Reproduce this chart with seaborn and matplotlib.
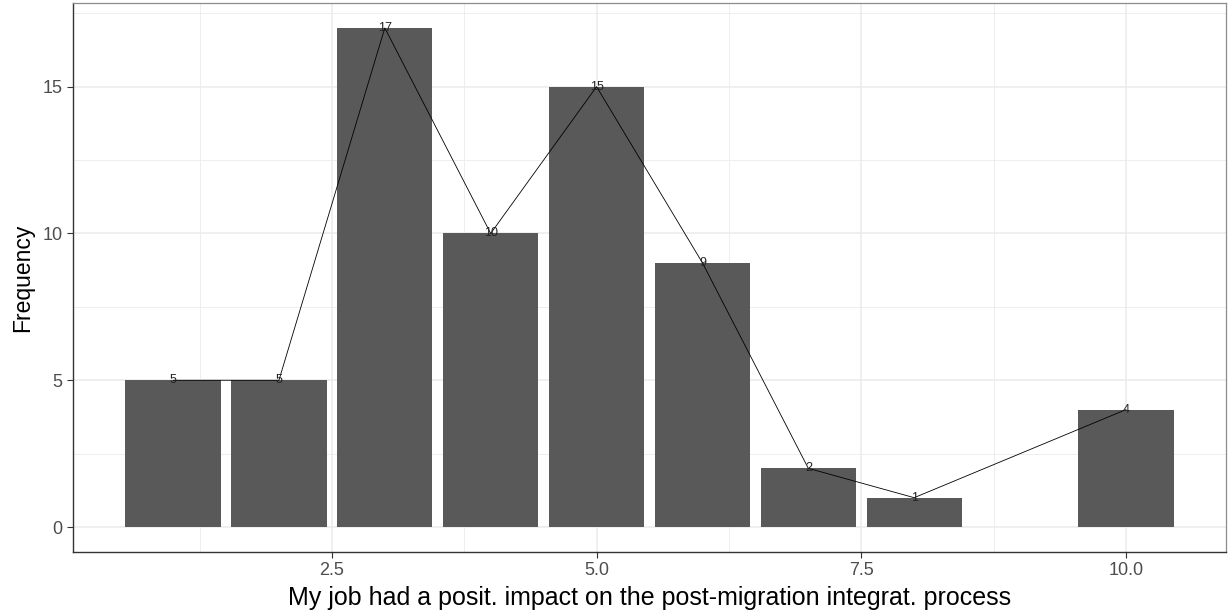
import numpy as np
import pandas as pd
import seaborn as sns
import matplotlib.pyplot as plt
from matplotlib.ticker import MultipleLocator

# response scale values and how often each was chosen
scores = [1, 2, 3, 4, 5, 6, 7, 8, 10]
counts = [5, 5, 17, 10, 15, 9, 2, 1, 4]
x_ticks = [2.5, 5.0, 7.5, 10.0]
y_ticks = [0, 5, 10, 15]

df = pd.DataFrame({'score': scores, 'freq': counts})

sns.set_theme(style="white")
plt.rcParams['font.family'] = ['Liberation Sans', 'DejaVu Sans']

fig = plt.figure(figsize=(12.28, 6.14), dpi=100)
ax = fig.add_axes([73 / 1228, 62 / 614, 1153 / 1228, 549 / 614])

sns.barplot(data=df, x='score', y='freq', native_scale=True, width=0.9,
            color='#595959', saturation=1, edgecolor='none', ax=ax, zorder=2)
sns.lineplot(data=df, x='score', y='freq', color='black', linewidth=0.6, ax=ax, zorder=3)
for s, c in zip(scores, counts):
    ax.text(s, c, str(c), ha='center', va='center', fontsize=9, color='#222222', zorder=4)

ax.set_xlim(0.055, 10.945)
ax.set_ylim(-0.85, 17.85)
ax.set_xticks(x_ticks)
ax.set_xticklabels([f'{v:.1f}' for v in x_ticks])
ax.set_yticks(y_ticks)
ax.xaxis.set_minor_locator(MultipleLocator(1.25))
ax.yaxis.set_minor_locator(MultipleLocator(2.5))
ax.grid(which='major', color='#EBEBEB', linewidth=1.1, zorder=0)
ax.grid(which='minor', color='#EBEBEB', linewidth=0.6, zorder=0)
ax.set_axisbelow(True)

for side in ['top', 'right']:
    ax.spines[side].set_visible(True)
    ax.spines[side].set_color('#8C8C8C')
    ax.spines[side].set_linewidth(0.9)
for side in ['left', 'bottom']:
    ax.spines[side].set_color('#333333')
    ax.spines[side].set_linewidth(1.0)

ax.tick_params(axis='both', which='major', length=4, width=0.8, color='#333333',
               labelcolor='#4D4D4D', labelsize=13, direction='out')
ax.tick_params(axis='both', which='minor', length=0)
ax.tick_params(axis='x', bottom=True)
ax.tick_params(axis='y', left=True)

ax.set_xlabel('My job had a posit. impact on the post-migration integrat. process', fontsize=18, color='black', labelpad=5)
ax.set_ylabel('Frequency', fontsize=16.5, color='black', labelpad=6)

plt.savefig('out.png', dpi=100)
